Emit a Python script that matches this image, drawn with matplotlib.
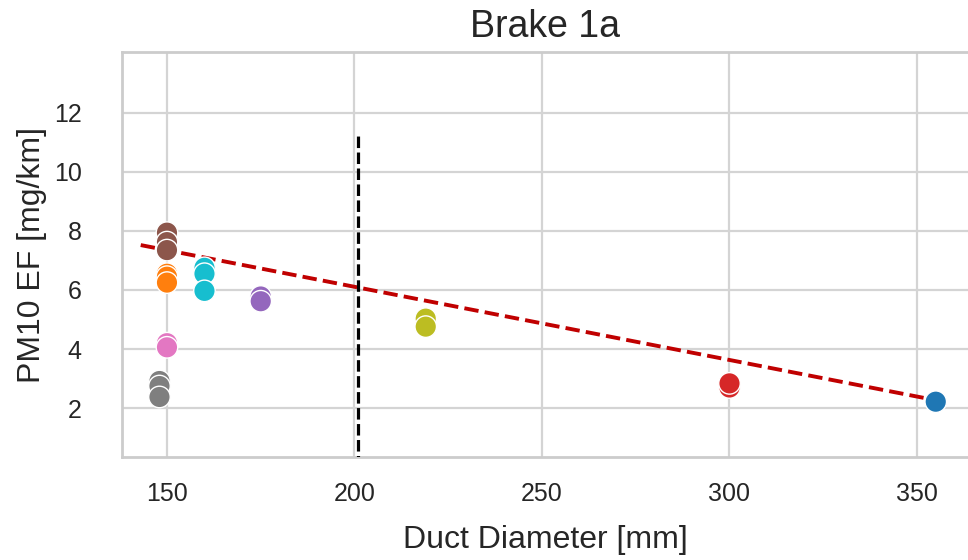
import matplotlib
matplotlib.use('Agg')
import matplotlib.pyplot as plt
import seaborn as sns
import numpy as np
import pandas as pd

# measured points, one colour (tab10 index) per duct setup
duct_diam = [148, 148, 148,
             150, 150, 150,
             150, 150, 150,
             150, 150,
             160, 160, 160,
             175, 175,
             219, 219,
             300, 300,
             355]
pm10_ef = [2.92, 2.75, 2.38,
           7.94, 7.62, 7.35,
           6.55, 6.45, 6.25,
           4.20, 4.06,
           6.75, 6.55, 5.97,
           5.78, 5.62,
           5.03, 4.76,
           2.70, 2.84,
           2.22]
setup = [7, 7, 7,
         5, 5, 5,
         1, 1, 1,
         6, 6,
         9, 9, 9,
         4, 4,
         8, 8,
         3, 3,
         0]

# trend line (slope, intercept) and its x range
trend_slope = -0.02476
trend_intercept = 11.06
trend_range = [143, 355]

# reference diameter marker
ref_diam = 201
ref_top = 11.2

df = pd.DataFrame({'d': duct_diam, 'ef': pm10_ef, 'setup': setup})

sns.set_theme(style='whitegrid')
plt.rcParams['font.family'] = ['Liberation Sans', 'DejaVu Sans']

fig = plt.figure(figsize=(9.68, 5.6), dpi=100)
ax = fig.add_axes([0.126, 0.184, 0.874, 0.723])

tab10 = sns.color_palette('tab10')
pal = {i: tab10[i] for i in range(10)}
sns.scatterplot(data=df, x='d', y='ef', hue='setup', palette=pal, s=240,
                edgecolor='white', linewidth=1, legend=False, ax=ax, zorder=4)

xt = np.array(trend_range)
ax.plot(xt, trend_slope * xt + trend_intercept, color='#c00000', lw=2.8,
        ls='--', zorder=3)
ax.vlines(ref_diam, 0, ref_top, colors='black', lw=2.3, linestyles=(0, (3.6, 1.4)),
          zorder=5)

ax.set_xlim(138, 363.6)
ax.set_ylim(0.35, 14.05)
ax.set_xticks([150, 200, 250, 300, 350])
ax.set_yticks([2, 4, 6, 8, 10, 12])

for s in ax.spines.values():
    s.set_color('#cccccc')
    s.set_linewidth(2)
ax.spines['right'].set_visible(False)
ax.grid(color='#d4d4d4', lw=1.6)

ax.tick_params(axis='x', labelsize=18, pad=12, colors='#262626')
ax.tick_params(axis='y', labelsize=18, pad=23, colors='#262626')

ax.set_xlabel('Duct Diameter [mm]', fontsize=23, color='#262626', labelpad=14)
ax.set_ylabel('PM10 EF [mg/km]', fontsize=23, color='#262626', labelpad=5)
ax.set_title('Brake 1a', fontsize=27, color='#262626', pad=11)

fig.savefig('out.png', dpi=100)
